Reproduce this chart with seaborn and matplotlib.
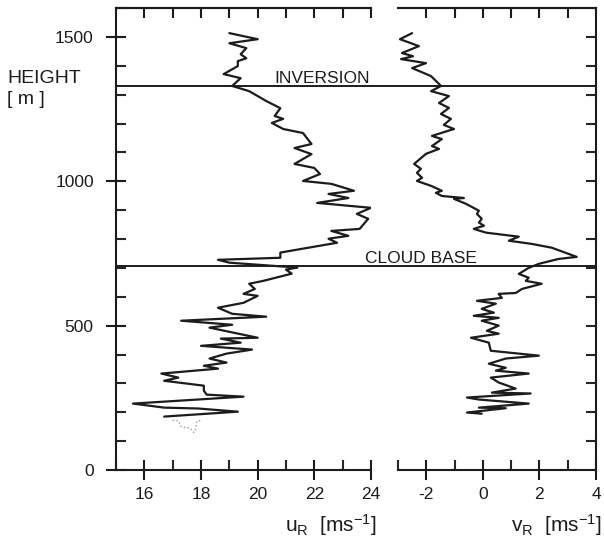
import matplotlib
matplotlib.use("Agg")
import matplotlib.pyplot as plt
import seaborn as sns
import pandas as pd
from matplotlib.ticker import MultipleLocator

# ---------------- data ----------------
u_height = [1513, 1492, 1478, 1461, 1440, 1426, 1416, 1399, 1371, 1357,
            1330, 1312, 1278, 1253, 1226, 1216, 1202, 1181, 1167, 1129,
            1115, 1094, 1060, 1046, 1025, 1001, 991, 967, 956, 942,
            925, 908, 887, 870, 835, 828, 811, 801, 787, 753,
            735, 728, 718, 701, 694, 680, 655, 645, 627, 610,
            603, 579, 562, 541, 531, 517, 503, 493, 458, 455,
            441, 430, 417, 403, 386, 372, 361, 351, 334, 320,
            309, 292, 275, 261, 254, 230, 216, 213, 202, 185]
u_speed = [19.0, 20.0, 19.0, 19.6, 19.4, 19.6, 19.3, 19.3, 18.8, 19.4,
           19.1, 19.7, 20.3, 20.8, 20.6, 20.9, 20.5, 20.9, 21.6, 21.9,
           21.3, 21.9, 21.3, 22.0, 22.2, 21.6, 22.6, 23.4, 22.5, 23.2,
           22.1, 24.0, 23.5, 23.9, 23.6, 22.6, 23.2, 22.5, 22.8, 20.8,
           20.8, 18.6, 19.0, 21.4, 21.0, 21.2, 20.2, 19.7, 19.9, 19.5,
           20.0, 19.5, 18.6, 19.1, 20.3, 17.3, 19.1, 18.3, 20.0, 18.7,
           19.4, 18.0, 19.8, 18.9, 18.3, 18.9, 18.1, 18.6, 16.6, 17.2,
           16.7, 18.1, 18.1, 18.2, 19.5, 15.6, 16.7, 17.9, 19.3, 16.7]

u_faint_height = [172, 170, 150, 145, 130, 140, 168, 172]
u_faint_speed = [17.0, 17.2, 17.3, 17.6, 17.75, 17.8, 17.85, 18.0]

v_height = [1513, 1492, 1468, 1444, 1433, 1423, 1409, 1392, 1364, 1330,
            1312, 1295, 1271, 1254, 1233, 1216, 1195, 1181, 1157, 1146,
            1122, 1112, 1095, 1060, 1043, 1029, 1012, 1001, 984, 967,
            960, 949, 942, 939, 922, 898, 887, 870, 857, 846,
            835, 822, 808, 794, 783, 770, 738, 731, 714, 700,
            679, 666, 655, 645, 627, 613, 610, 596, 586, 576,
            558, 545, 534, 527, 517, 500, 482, 472, 458, 441,
            413, 396, 386, 368, 354, 344, 334, 320, 303, 282,
            268, 265, 251, 244, 230, 216, 214, 199, 195]
v_speed = [-2.50, -2.93, -2.26, -2.86, -2.47, -2.89, -2.01, -2.50, -1.83, -1.48,
           -1.83, -1.20, -1.55, -1.20, -1.48, -1.13, -1.38, -1.02, -1.80, -1.45,
           -1.80, -1.55, -2.01, -2.43, -2.19, -2.33, -2.15, -2.33, -1.83, -1.45,
           -1.66, -1.45, -0.67, -1.02, -0.60, -0.14, -0.21, -0.04, -0.14, 0.04,
           -0.32, 0.11, 1.27, 0.92, 1.73, 2.43, 3.32, 2.68, 1.98, 1.62,
           1.27, 1.62, 1.52, 2.08, 1.38, 1.16, 0.56, 0.67, -0.21, 0.46,
           -0.04, 0.39, -0.32, 0.56, -0.04, 0.56, 0.14, 0.56, -0.42, 0.21,
           0.28, 1.98, 0.81, 0.21, 0.81, 0.46, 1.62, 0.28, 0.56, 1.16,
           0.32, 1.69, -0.56, -0.14, 1.62, -0.14, 0.81, -0.56, -0.04]

inversion_height = 1330
cloud_base_height = 705

height_ticks = [0, 500, 1000, 1500]
u_ticks = [16, 18, 20, 22, 24]
v_ticks = [-2, 0, 2, 4]

# ---------------- style ----------------
sns.set_style("white")
plt.rcParams['font.family'] = ['Liberation Sans', 'DejaVu Sans']
plt.rcParams['axes.unicode_minus'] = False
plt.rcParams['mathtext.fontset'] = 'custom'
plt.rcParams['mathtext.rm'] = 'Liberation Sans'
plt.rcParams['mathtext.it'] = 'Liberation Sans'
ink = '#1c1c1c'
LW = 1.6

W, H = 604, 540
fig = plt.figure(figsize=(W / 100, H / 100), dpi=100)
fig.patch.set_facecolor('white')

ax_l, ax_r, ax_b, ax_t = 116, 371, 470, 8
axv = fig.add_axes([398 / W, (H - ax_b) / H, (596 - 398) / W, (ax_b - ax_t) / H])
axu = fig.add_axes([ax_l / W, (H - ax_b) / H, (ax_r - ax_l) / W, (ax_b - ax_t) / H])
for ax in (axu, axv):
    ax.patch.set_alpha(0)

df_u = pd.DataFrame({'u': u_speed, 'h': u_height})
df_uf = pd.DataFrame({'u': u_faint_speed, 'h': u_faint_height})
df_v = pd.DataFrame({'v': v_speed, 'h': v_height})

sns.lineplot(data=df_u, x='u', y='h', sort=False, estimator=None, ax=axu,
             color=ink, lw=LW)
sns.lineplot(data=df_uf, x='u', y='h', sort=False, estimator=None, ax=axu,
             color='#9a9a9a', lw=1.0, linestyle=':')
sns.lineplot(data=df_v, x='v', y='h', sort=False, estimator=None, ax=axv,
             color=ink, lw=LW)

for ax in (axu, axv):
    ax.set_ylim(0, 1600)
    ax.set_xlabel('')
    ax.set_ylabel('')
    ax.grid(False)
    for s in ax.spines.values():
        s.set_linewidth(1.5)
        s.set_color(ink)

axu.set_xlim(15, 24)
axv.set_xlim(-3, 4)

# left panel spines / ticks
axu.spines['right'].set_visible(False)
axu.set_xticks(u_ticks)
axu.xaxis.set_minor_locator(MultipleLocator(1))
axu.set_yticks(height_ticks)
axu.yaxis.set_minor_locator(MultipleLocator(100))
axu.tick_params(axis='x', which='major', direction='inout', length=14, width=1.5,
                bottom=True, top=False, labelsize=12.5, pad=5, colors=ink)
axu.tick_params(axis='x', which='minor', direction='in', length=7, width=1.5,
                bottom=True, top=False)
axu.tick_params(axis='y', which='major', direction='inout', length=14, width=1.5,
                left=True, right=False, labelsize=12.5, pad=9, colors=ink)
axu.tick_params(axis='y', which='minor', direction='in', length=7, width=1.5,
                left=True, right=False)
secu = axu.secondary_xaxis('top')
secu.set_xticks(list(range(16, 25)))
secu.set_xticklabels([])
secu.tick_params(direction='in', length=7, width=1.5, colors=ink)
secu.spines['top'].set_linewidth(1.5)

# right panel spines / ticks
axv.spines['left'].set_visible(False)
axv.set_xticks(v_ticks)
axv.xaxis.set_minor_locator(MultipleLocator(1))
axv.tick_params(axis='x', which='major', direction='inout', length=14, width=1.5,
                bottom=True, top=False, labelsize=12.5, pad=5, colors=ink)
axv.tick_params(axis='x', which='minor', direction='in', length=7, width=1.5,
                bottom=True, top=False)
axv.set_yticks(list(range(100, 1600, 100)))
axv.tick_params(axis='y', which='both', direction='in', length=7, width=1.5,
                left=False, right=True, labelleft=False, labelright=False)
secv = axv.secondary_xaxis('top')
secv.set_xticks(list(range(-2, 4)))
secv.set_xticklabels([])
secv.tick_params(direction='in', length=7, width=1.5, colors=ink)
secv.spines['top'].set_linewidth(1.5)

# reference levels spanning both panels
span = (596 - ax_l) / (ax_r - ax_l)
for lvl in (inversion_height, cloud_base_height):
    axu.axhline(lvl, xmin=0, xmax=span, color=ink, lw=1.4, clip_on=False,
                zorder=5)

axu.text(23.95, 1340, 'INVERSION', ha='right', va='baseline', fontsize=12.5,
         color=ink)
axu.text(23.8, 717, 'CLOUD BASE', ha='left', va='baseline', fontsize=12.5,
         color=ink, clip_on=False, zorder=6)

fig.text(7 / W, (H - 83) / H, 'HEIGHT', ha='left', va='baseline', fontsize=14,
         color=ink)
fig.text(7 / W, (H - 104) / H, '[ m ]', ha='left', va='baseline', fontsize=14,
         color=ink)

fig.text(377 / W, (H - 532) / H, r'u$_\mathregular{R}$  [ms$^\mathregular{-1}$]',
         ha='right', va='baseline', fontsize=15, color=ink)
fig.text(602 / W, (H - 532) / H, r'v$_\mathregular{R}$  [ms$^\mathregular{-1}$]',
         ha='right', va='baseline', fontsize=15, color=ink)

fig.savefig('out.png', dpi=100, facecolor='white')
